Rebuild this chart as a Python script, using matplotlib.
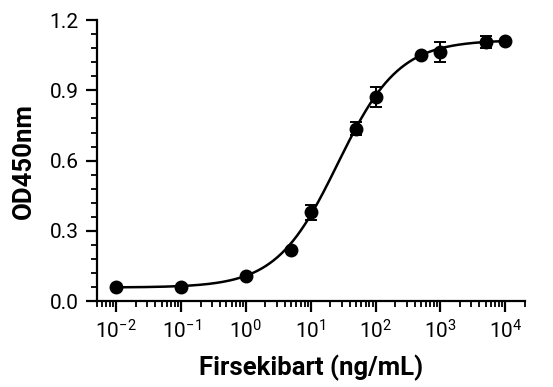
import numpy as np
import matplotlib
matplotlib.use("Agg")
import matplotlib.pyplot as plt
from matplotlib.ticker import LogLocator, MultipleLocator, FixedLocator, FormatStrFormatter

plt.rcParams["font.family"] = ["Roboto", "DejaVu Sans"]
plt.rcParams["mathtext.fontset"] = "custom"
plt.rcParams["mathtext.rm"] = "Roboto"
plt.rcParams["mathtext.it"] = "Roboto"

# measured points
conc = [0.01, 0.1, 1, 5, 10, 50, 100, 500, 1000, 5000, 10000]
od = [0.061, 0.060, 0.107, 0.218, 0.379, 0.737, 0.872, 1.053, 1.065, 1.107, 1.111]
od_err = [0, 0, 0, 0, 0.033, 0.028, 0.041, 0, 0.043, 0.025, 0]

# 4PL fit parameters
bottom = 0.058
top = 1.115
ec50 = 26.0
hill = 0.92

xfit = np.logspace(-2, 4, 300)
yfit = bottom + (top - bottom) / (1 + (ec50 / xfit) ** hill)

fig = plt.figure(figsize=(5.53, 3.87), dpi=100)
ax = fig.add_axes([0.175, 0.222, 0.774, 0.726])

ax.plot(xfit, yfit, color="black", lw=1.8, zorder=2)
ax.errorbar(conc, od, yerr=od_err, fmt="o", color="black", ms=9,
            elinewidth=1.4, capsize=4.5, capthick=1.4, zorder=3)

ax.set_xscale("log")
ax.set_xlim(5e-3, 2e4)
ax.set_ylim(0, 1.2)

ax.xaxis.set_major_locator(FixedLocator([1e-2, 1e-1, 1, 1e1, 1e2, 1e3, 1e4]))
ax.xaxis.set_minor_locator(LogLocator(base=10, subs=np.arange(2, 10), numticks=20))
ax.set_xticklabels([r"$10^{-2}$", r"$10^{-1}$", r"$10^{0}$", r"$10^{1}$",
                    r"$10^{2}$", r"$10^{3}$", r"$10^{4}$"])
ax.yaxis.set_major_locator(FixedLocator([0, 0.3, 0.6, 0.9, 1.2]))
ax.yaxis.set_minor_locator(MultipleLocator(0.06))
ax.yaxis.set_major_formatter(FormatStrFormatter("%.1f"))

for s in ["top", "right"]:
    ax.spines[s].set_visible(False)
for s in ["left", "bottom"]:
    ax.spines[s].set_linewidth(1.6)

ax.tick_params(which="major", direction="out", length=8, width=1.6, labelsize=15, pad=5)
ax.tick_params(which="minor", direction="out", length=4, width=1.3)

ax.set_xlabel("Firsekibart (ng/mL)", fontsize=18.5, fontweight="bold", labelpad=9)
ax.set_ylabel("OD450nm", fontsize=18.5, fontweight="bold", labelpad=10)

fig.savefig("out.png", dpi=100)
